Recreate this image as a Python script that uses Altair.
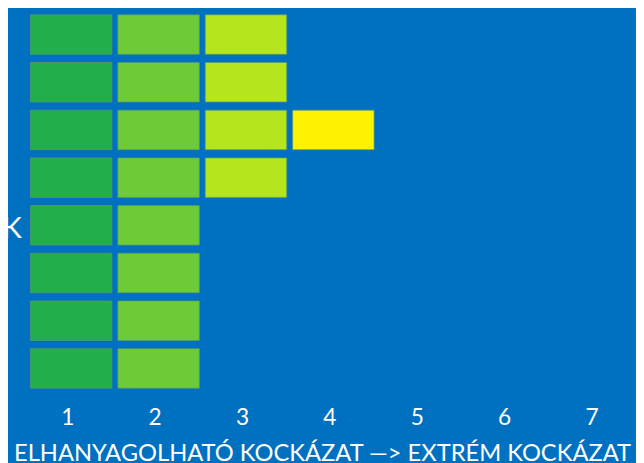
import altair as alt
import pandas as pd

# cells of the risk matrix: row (1 = top) and column (risk level)
rows = [1, 1, 1, 2, 2, 2, 3, 3, 3, 3, 4, 4, 4, 5, 5, 6, 6, 7, 7, 8, 8]
cols = [1, 2, 3, 1, 2, 3, 1, 2, 3, 4, 1, 2, 3, 1, 2, 1, 2, 1, 2, 1, 2]
levels = [1, 2, 3, 4]
level_colors = ["#22AE4B", "#6CCB36", "#B5E61D", "#FFF200"]
tick_values = [1, 2, 3, 4, 5, 6, 7]
axis_title = "ELHANYAGOLHATÓ KOCKÁZAT  —>  EXTRÉM KOCKÁZAT"
side_label = "OK"

FONT = "Lato"
BG = "#0070C0"

df = pd.DataFrame({"row": rows, "col": cols})

bars = alt.Chart(df).transform_calculate(
    x0="datum.col - 0.466", x1="datum.col + 0.466",
    y0="datum.row - 0.414", y1="datum.row + 0.414",
).mark_rect(stroke="#5E9A6A", strokeWidth=1, strokeOpacity=0.7).encode(
    x=alt.X("x0:Q", scale=alt.Scale(domain=[0.2768, 7.4633], nice=False, zero=False),
            axis=alt.Axis(values=tick_values, format="d", title=axis_title,
                          domain=False, ticks=False, grid=False,
                          labelFont=FONT, labelFontSize=23, labelColor="white",
                          labelPadding=1, labelOffset=-4, labelFlush=False,
                          titleFont=FONT, titleFontSize=24, titleColor="white",
                          titleFontWeight="normal", titleBaseline="alphabetic",
                          titleY=55)),
    x2="x1:Q",
    y=alt.Y("y0:Q", scale=alt.Scale(domain=[0.503, 8.785], nice=False, zero=False,
                                   reverse=True), axis=None),
    y2="y1:Q",
    color=alt.Color("col:O", scale=alt.Scale(domain=levels, range=level_colors),
                    legend=None),
)

label = alt.Chart(pd.DataFrame({"t": [side_label]})).mark_text(
    align="right", baseline="alphabetic", font=FONT, fontSize=30, color="white"
).encode(text="t:N", x=alt.value(14), y=alt.value(230))

chart = alt.layer(bars, label).properties(
    width=636, height=400,
    autosize=alt.AutoSizeParams(type="none"),
    padding={"left": 0, "top": 0, "right": 0, "bottom": 55},
    background=BG,
).configure_view(stroke=None)

chart.save("out.html", embed_options={"renderer": "svg", "actions": False})
